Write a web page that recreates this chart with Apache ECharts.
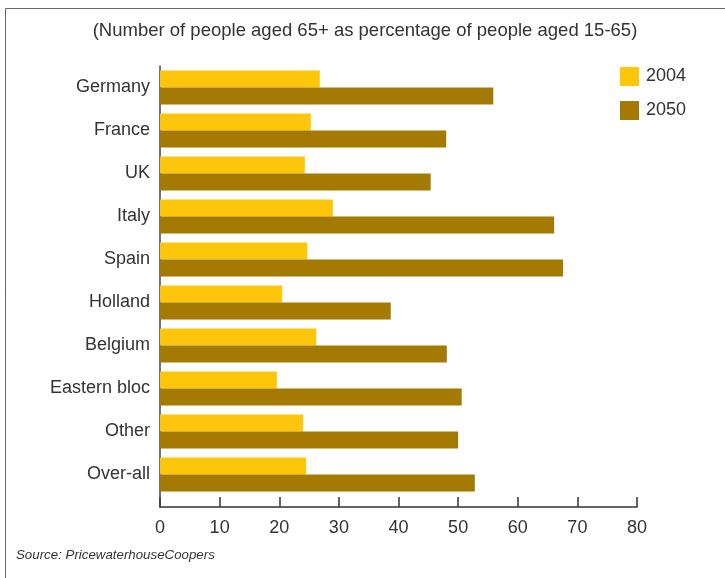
<!DOCTYPE html>
<html>
<head>
<meta charset="utf-8">
<script src="https://cdn.jsdelivr.net/npm/echarts@6/dist/echarts.min.js"></script>
<style>
html,body{margin:0;padding:0;background:#fff;}
#chart{width:725px;height:578px;}
</style>
</head>
<body>
<div id="chart"></div>
<script>
const categories = ['Germany','France','UK','Italy','Spain','Holland','Belgium','Eastern bloc','Other','Over-all'];
const values2004 = [26.8, 25.3, 24.3, 29.0, 24.7, 20.5, 26.2, 19.6, 24.0, 24.5];
const values2050 = [55.9, 48.0, 45.4, 66.1, 67.6, 38.7, 48.1, 50.6, 50.0, 52.8];
const xTicks = [0, 10, 20, 30, 40, 50, 60, 70, 80];
const seriesNames = ['2004', '2050'];

const FONT = '"Liberation Sans", Arial, Helvetica, sans-serif';
const TXT = '#333333';

const chart = echarts.init(document.getElementById('chart'), null, {renderer: 'canvas'});
chart.setOption({
  animation: false,
  backgroundColor: '#ffffff',
  textStyle: {fontFamily: FONT},
  title: {
    text: '(Number of people aged 65+ as percentage of people aged 15-65)',
    left: 365, top: 21, textAlign: 'center', padding: 0,
    textStyle: {fontFamily: FONT, fontSize: 18.5, fontWeight: 'normal', color: TXT}
  },
  legend: {
    orient: 'vertical', left: 620, top: 67, padding: 0,
    itemWidth: 19, itemHeight: 19, itemGap: 15,
    icon: 'rect',
    data: seriesNames,
    textStyle: {fontFamily: FONT, fontSize: 18, color: TXT, padding: [0,0,0,2]}
  },
  graphic: [
    {type: 'polyline', shape: {points: [[5.5, 578], [5.5, 8.5], [725, 8.5]]},
     style: {stroke: '#666', lineWidth: 1, fill: null}, silent: true},
    {type: 'text', left: 16, top: 549,
     style: {text: 'Source: PricewaterhouseCoopers', font: 'italic 13.3px ' + FONT, fill: TXT}}
  ],
  grid: [
    {left: 160, right: 88, top: 66, bottom: 71},
    {left: 160, right: 88, top: 66, bottom: 82}
  ],
  xAxis: [
    {gridIndex: 0, type: 'value', min: xTicks[0], max: xTicks[xTicks.length-1], interval: 10,
     axisLine: {show: true, lineStyle: {color: '#333', width: 1.5}},
     axisTick: {show: true, inside: true, length: 10, lineStyle: {color: '#333', width: 1.5}},
     axisLabel: {fontFamily: FONT, fontSize: 18, color: TXT, margin: 12},
     splitLine: {show: false}},
    {gridIndex: 1, type: 'value', min: xTicks[0], max: xTicks[xTicks.length-1], show: false}
  ],
  yAxis: [
    {gridIndex: 0, type: 'value', min: 0, max: 1,
     axisLine: {show: true, lineStyle: {color: '#444', width: 1.5}},
     axisTick: {show: false}, axisLabel: {show: false}, splitLine: {show: false}},
    {gridIndex: 1, type: 'category', data: categories, inverse: true,
     axisLine: {show: false}, axisTick: {show: false},
     axisLabel: {fontFamily: FONT, fontSize: 18, color: TXT, margin: 10}}
  ],
  series: [
    {name: seriesNames[0], type: 'bar', xAxisIndex: 1, yAxisIndex: 1, data: values2004,
     barWidth: 17, barGap: '0%', itemStyle: {color: '#FEC60B'}},
    {name: seriesNames[1], type: 'bar', xAxisIndex: 1, yAxisIndex: 1, data: values2050,
     barWidth: 17, barGap: '0%', itemStyle: {color: '#A47A02'}}
  ]
});
</script>
</body>
</html>
